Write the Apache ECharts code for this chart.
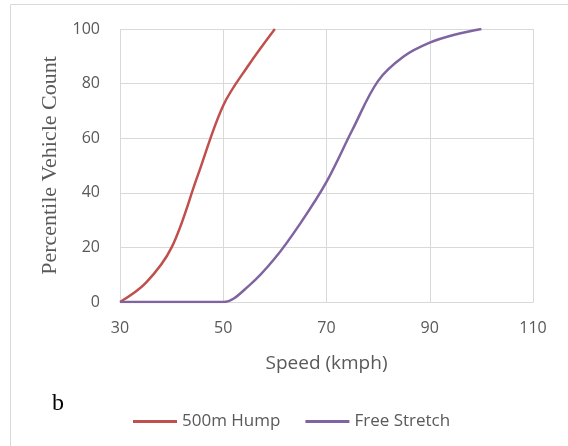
<!DOCTYPE html>
<html><head><meta charset="utf-8">
<script src="https://cdn.jsdelivr.net/npm/echarts@6/dist/echarts.min.js"></script>
<style>html,body{margin:0;padding:0;background:#fff}#c{width:568px;height:446px}</style>
</head><body><div id="c"></div>
<script>
const seriesNames = ['500m Hump', 'Free Stretch'];
const humpSpeeds = [30, 35, 40, 45, 50, 55, 60];
const humpValues = [0, 7, 20, 46, 72, 87, 100];
const freeSpeeds = [30, 35, 40, 45, 50, 55, 60, 65, 70, 75, 80, 85, 90, 95, 100];
const freeValues = [0, 0, 0, 0, 0, 6, 16, 29, 44, 63, 81, 90, 95, 98, 100];
const xTicks = [30, 50, 70, 90, 110];
const yTicks = [0, 20, 40, 60, 80, 100];

const pair = (xs, ys) => xs.map((x, i) => [x, ys[i]]);
const chart = echarts.init(document.getElementById('c'));
chart.setOption({
  animation: false,
  grid: {left: 120, right: 35, top: 29, bottom: 144},
  graphic: [
    {type: 'rect', shape: {x: 10.5, y: 4.5, width: 600, height: 500}, style: {fill: 'none', stroke: '#d9d9d9', lineWidth: 1}},
    {type: 'text', left: 52, top: 392, style: {text: 'b', font: '24px "Liberation Serif", serif', fill: '#000'}}
  ],
  xAxis: {
    type: 'value', min: xTicks[0], max: xTicks[xTicks.length - 1], interval: 20,
    name: 'Speed (kmph)', nameLocation: 'middle', nameGap: 52,
    nameTextStyle: {fontFamily: 'Open Sans', fontSize: 19, color: '#595959'},
    axisLine: {show: true, lineStyle: {color: '#d9d9d9', width: 1}},
    axisTick: {show: false},
    axisLabel: {fontFamily: 'Open Sans', fontSize: 16, color: '#595959', margin: 18},
    splitLine: {show: true, lineStyle: {color: '#d9d9d9', width: 1}}
  },
  yAxis: {
    type: 'value', min: yTicks[0], max: yTicks[yTicks.length - 1], interval: 20,
    name: 'Percentile Vehicle Count', nameLocation: 'middle', nameGap: 53,
    nameTextStyle: {fontFamily: 'Liberation Serif', fontSize: 22, color: '#595959'},
    axisLine: {show: false},
    axisTick: {show: false},
    axisLabel: {fontFamily: 'Open Sans', fontSize: 16, color: '#595959', margin: 20},
    splitLine: {show: true, lineStyle: {color: '#d9d9d9', width: 1}}
  },
  legend: {
    left: 133, top: 413, padding: 0, icon: 'rect', itemWidth: 44, itemHeight: 3, itemGap: 25,
    textStyle: {fontFamily: 'Open Sans', fontSize: 17, color: '#595959'},
    data: seriesNames
  },
  series: [
    {name: seriesNames[0], type: 'line', smooth: 0.35, showSymbol: false, data: pair(humpSpeeds, humpValues),
     lineStyle: {color: '#C0504D', width: 2.5}, itemStyle: {color: '#C0504D'}},
    {name: seriesNames[1], type: 'line', smooth: 0.35, showSymbol: false, data: pair(freeSpeeds, freeValues),
     lineStyle: {color: '#8064A2', width: 2.5}, itemStyle: {color: '#8064A2'}}
  ]
});
</script></body></html>
